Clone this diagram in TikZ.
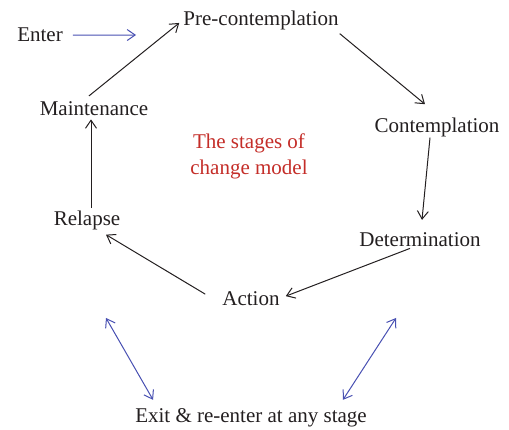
\documentclass[tikz,border=0pt]{standalone}
\usepackage{fontspec}
\setmainfont{Liberation Serif}
\usetikzlibrary{arrows.meta}
\definecolor{inkblack}{RGB}{35,31,32}
\definecolor{flowblue}{RGB}{72,80,178}
\definecolor{titlered}{RGB}{196,45,40}
\begin{document}
\begin{tikzpicture}[x=1pt,y=1pt,
  stage/.style={inner sep=0pt,anchor=base,text=inkblack,font=\fontsize{21}{26}\selectfont},
  cyc/.style={draw=inkblack,line width=1pt,-{Straight Barb[length=8pt,width=11pt,line width=1pt]}},
  bluearr/.style={draw=flowblue,line width=1pt,-{Straight Barb[length=8pt,width=11pt,line width=1pt]}},
  bluedbl/.style={draw=flowblue,line width=1pt,{Straight Barb[length=8pt,width=11pt,line width=1pt]}-{Straight Barb[length=8pt,width=11pt,line width=1pt]}}]
\useasboundingbox (0,0) rectangle (509,430);

% stages of the cycle
\node[stage] (enter) at (40,388) {Enter};
\node[stage] (pre)   at (261,404) {Pre-contemplation};
\node[stage] (cont)  at (437,297) {Contemplation};
\node[stage] (det)   at (420,183) {Determination};
\node[stage] (act)   at (251,124) {Action};
\node[stage] (rel)   at (87,204)  {Relapse};
\node[stage] (maint) at (94,314)  {Maintenance};
\node[stage] (exit)  at (251,7)   {Exit \& re-enter at any stage};

% title in the middle
\node[inner sep=0pt,align=center,text=titlered,font=\fontsize{21}{26}\selectfont]
  (title) at (249,274) {The stages of\\change model};

% entry arrow
\coordinate (entertip) at (136,395);
\draw[bluearr] ([xshift=10pt]enter.east) -- (entertip);

% the cycle
\draw[cyc] ([shift={(-5,6)}]maint.north) -- ([shift={(-4,-2)}]pre.west);
\draw[cyc] ([shift={(1,-3)}]pre.south east) -- ([shift={(-12,14)}]cont.north);
\draw[cyc] ([shift={(-7,0)}]cont.south) -- ([shift={(2,13)}]det.north);
\draw[cyc] ([shift={(-10,-1)}]det.south) -- ([shift={(6,3)}]act.east);
\draw[cyc] ([shift={(-17,5)}]act.west) -- ([shift={(19,-4)}]rel.south);
\draw[cyc] ([shift={(4,3)}]rel.north) -- ([shift={(-3,-3)}]maint.south);

% exit and re-entry
\coordinate (exitleft)  at (106,112);
\coordinate (exitright) at (396,112);
\draw[bluedbl] (exitleft) -- ([shift={(18,9)}]exit.north west);
\draw[bluedbl] (exitright) -- ([shift={(-24,9)}]exit.north east);
\end{tikzpicture}
\end{document}
